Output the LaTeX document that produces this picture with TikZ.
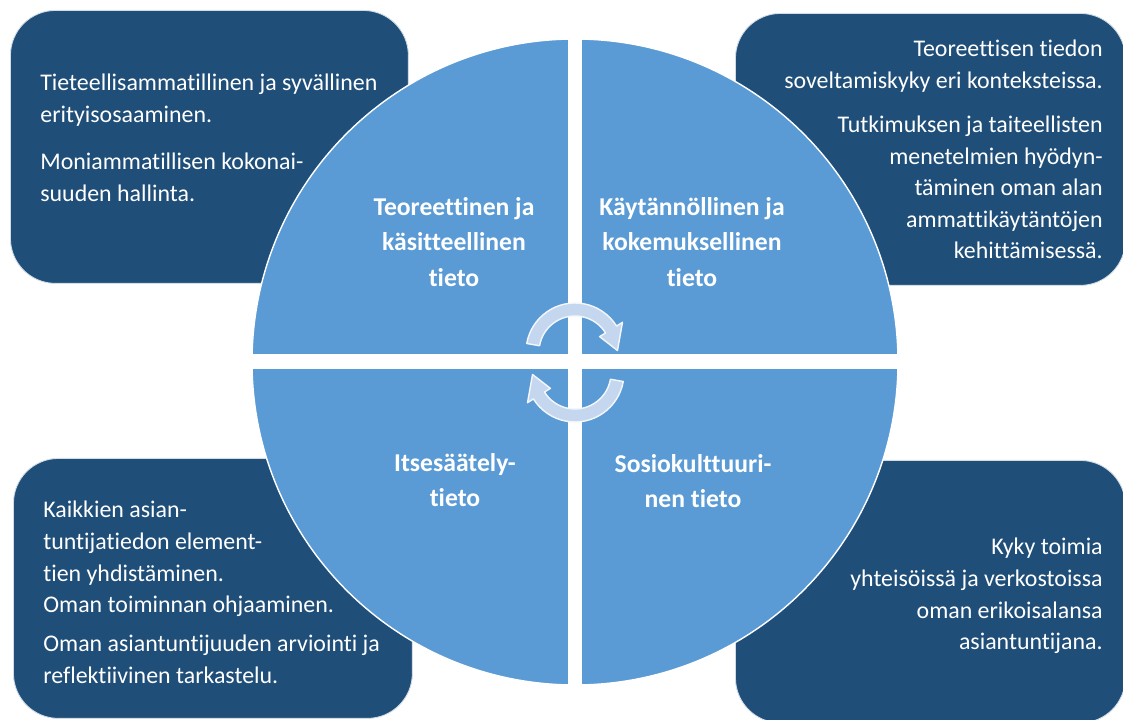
\documentclass[tikz,border=0pt]{standalone}
\usepackage{fontspec}
\setmainfont{Carlito}[Ligatures=NoCommon]
\usetikzlibrary{positioning,calc}
\definecolor{boxblue}{HTML}{1F4E79}
\definecolor{circblue}{HTML}{5B9BD5}
\definecolor{arrowblue}{HTML}{C4D7EE}
\tikzset{
  infobox/.style={
    draw=white!80!boxblue,
    line width=0.5pt,
    fill=boxblue,
    rounded corners=0.9cm,
    inner sep=0pt,
  },
  infotext/.style={
    text=white,
    inner sep=0pt,
    font=\fontsize{13.6}{18}\selectfont,
  },
  quadlabel/.style={
    text=white,
    align=center,
    inner sep=0pt,
    font=\bfseries\fontsize{14.6}{20}\selectfont,
  },
  cyclearrow/.style={
    fill=arrowblue,
    draw=white!80!arrowblue,
    line width=0.8pt,
    line join=round,
  }
}

\begin{document}
\begin{tikzpicture}[x=0.02cm, y=0.02cm]
        \useasboundingbox (0,0) rectangle (1123,720);

        % corner boxes
        \node (tlbox) [infobox, anchor=north west, minimum width=7.96cm, minimum height=5.46cm] at (10,710) {};
        \node (trbox) [infobox, anchor=north west, minimum width=7.8cm, minimum height=5.44cm] at (735,707) {};
        \node (blbox) [infobox, anchor=north west, minimum width=7.98cm, minimum height=5.2cm] at (13,262) {};
        \node (brbox) [infobox, anchor=north west, minimum width=7.8cm, minimum height=5.25cm] at (735,260) {};

        % the circle with its four parts
        \coordinate (mid) at (575,358);
        \filldraw[fill=circblue, draw=white, line width=0.8pt] (mid) circle (323);
        \draw[white, line width=0.28cm] ($(mid)+(0,325)$) -- ($(mid)+(0,-325)$);
        \draw[white, line width=0.3cm] ($(mid)+(-325,0)$) -- ($(mid)+(325,0)$);

        \node (theory) [quadlabel] at (454,478) {Teoreettinen ja\\ käsitteellinen\\ tieto};
        \node (practice) [quadlabel] at (692,478) {Käytännöllinen ja\\ kokemuksellinen\\ tieto};
        \node (selfreg) [quadlabel] at (455,240) {Itsesäätely-\\ tieto};
        \node (social) [quadlabel] at (693,239) {Sosiokulttuuri-\\ nen tieto};

        % texts in the boxes
        \node (tltext) [infotext, anchor=north west, align=left] at (40,646) {Tieteellisammatillinen ja syvällinen\\ erityisosaaminen.\\[9pt] Moniammatillisen kokonai-\\ suuden hallinta.};
        \node (trtext) [infotext, anchor=north east, align=right] at (1103,680) {Teoreettisen tiedon\\ soveltamiskyky eri konteksteissa.\\[7pt] Tutkimuksen ja taiteellisten\\ menetelmien hyödyn-\\ täminen oman alan\\ ammattikäytäntöjen\\ kehittämisessä.};
        \node (bltext) [infotext, anchor=north west, align=left] at (43,219) {Kaikkien asian-\\ tuntijatiedon element-\\ tien yhdistäminen.\\ Oman toiminnan ohjaaminen.\\[4pt] Oman asiantuntijuuden arviointi ja\\ reflektiivinen tarkastelu.};
        \node (brtext) [infotext, anchor=north east, align=right] at (1103,182) {Kyky toimia\\ yhteisöissä ja verkostoissa\\ oman erikoisalansa\\ asiantuntijana.};

        % cycle arrows in the middle
        \coordinate (upc) at (575,368);
        \coordinate (loc) at (575,347);
        \filldraw[cyclearrow] ($(upc)+(170:49)$) arc[start angle=170, end angle=32, radius=49]
        -- ($(upc)+(32:56)$) -- ($(upc)+(2:42.5)$) -- ($(upc)+(32:29)$) -- ($(upc)+(32:36)$)
        arc[start angle=32, end angle=170, radius=36] -- cycle;
        \filldraw[cyclearrow] ($(loc)+(-10:49)$) arc[start angle=-10, end angle=-148, radius=49]
        -- ($(loc)+(-148:56)$) -- ($(loc)+(-178:42.5)$) -- ($(loc)+(-148:29)$) -- ($(loc)+(-148:36)$)
        arc[start angle=-148, end angle=-10, radius=36] -- cycle;
      \end{tikzpicture}
\end{document}
